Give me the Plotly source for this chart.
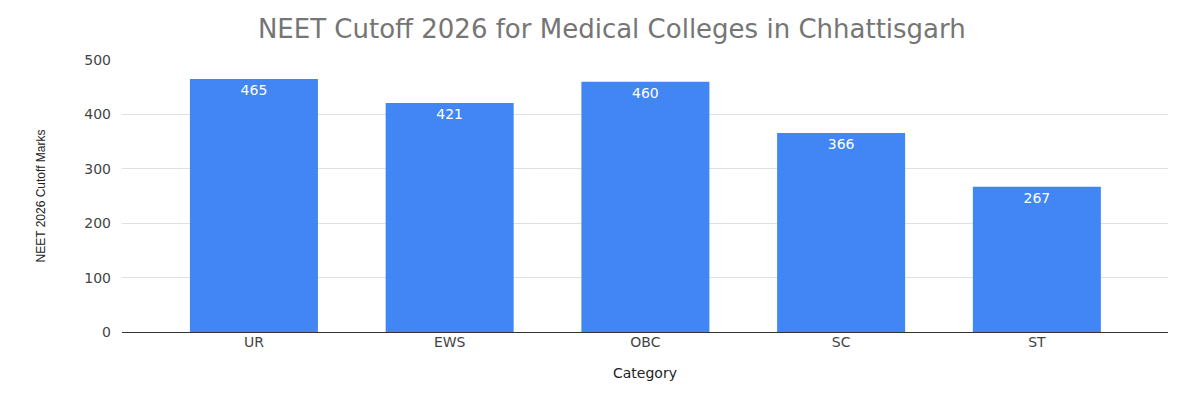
import plotly.graph_objects as go

# NEET cutoff by category
categories = ["UR", "EWS", "OBC", "SC", "ST"]
cutoff_marks = [465, 421, 460, 366, 267]
y_ticks = [0, 100, 200, 300, 400, 500]

fig = go.Figure()
fig.add_trace(go.Bar(
    x=categories, y=cutoff_marks,
    marker=dict(color="#4285F4", line=dict(width=0)),
    width=0.654,
    text=cutoff_marks,
    textposition="inside",
    insidetextanchor="end",
    textfont=dict(color="white", size=14, family="DejaVu Sans"),
    cliponaxis=False,
))

# page body adds an 8px margin, so the figure is a bit smaller than the window
fig.update_layout(
    width=1184, height=384,
    margin=dict(l=114, r=24, t=52, b=60),
    paper_bgcolor="white", plot_bgcolor="white",
    font=dict(family="DejaVu Sans", color="#444444"),
    title=dict(text="NEET Cutoff 2026 for Medical Colleges in Chhattisgarh",
               x=0.51, xanchor="center", y=0.945, yanchor="middle",
               font=dict(size=26, color="#757575")),
    showlegend=False,
)
fig.update_xaxes(
    range=[-0.674, 4.67],
    showgrid=False, showline=False, zeroline=False,
    ticks="", tickfont=dict(size=14, color="#444444"),
    title=dict(text="Category", font=dict(size=14, color="#222222"), standoff=19),
)
fig.update_yaxes(
    range=[0, 500], tickvals=y_ticks,
    showgrid=True, gridcolor="#e0e0e0", gridwidth=1,
    zeroline=True, zerolinecolor="#333333", zerolinewidth=1,
    showline=False, ticks="", ticklabelstandoff=10,
    tickfont=dict(size=14, color="#444444"),
    title=dict(text="NEET 2026 Cutoff Marks", font=dict(size=12, color="#222222", family="Arial"), standoff=36),
)

fig.write_html("out.html")
